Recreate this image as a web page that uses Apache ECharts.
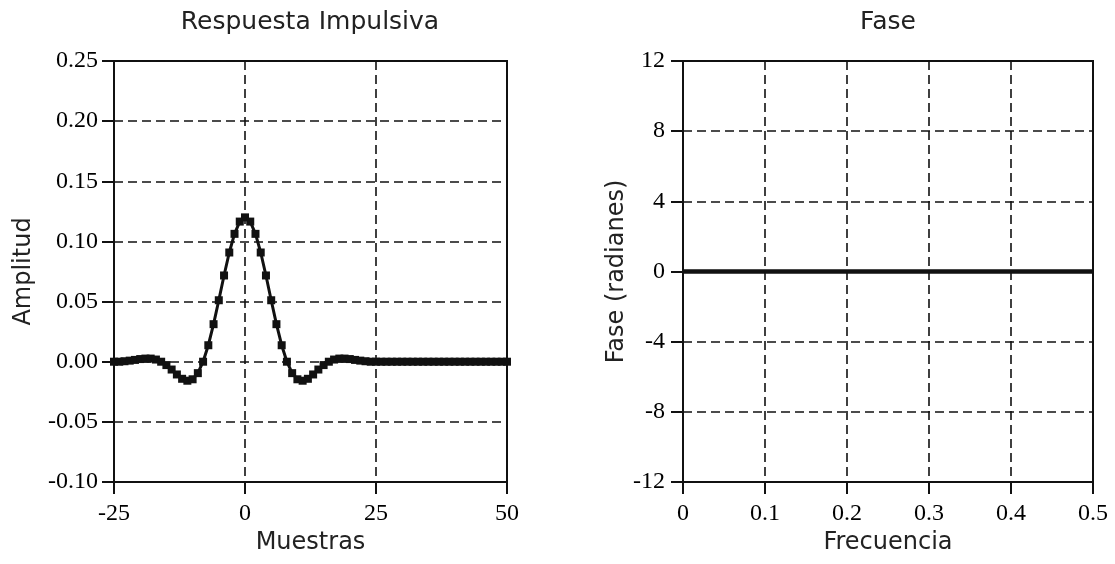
<!DOCTYPE html>
<html>
<head>
    <meta charset="utf-8">
    <title>Respuesta Impulsiva / Fase</title>
    <script src="https://cdn.jsdelivr.net/npm/echarts@6/dist/echarts.min.js"></script>
    <style>
        body { margin: 0; background: #fff; }
    </style>
</head>
<body>
<div id="main" style="width: 1115px;height:564px;"></div>
<script type="text/javascript">
    // muestras -25..50
    var muestras = [];
    for (var n = -25; n <= 50; n++) muestras.push(n);

    // amplitud (n = -25 .. 50)
    var amplitud = [
        0, 0, 0.0004, 0.0009, 0.0015, 0.0022, 0.0026, 0.0026, 0.0018, 0,
        -0.0028, -0.0065, -0.0106, -0.0142, -0.0158, -0.0146, -0.0095, 0,
        0.0137, 0.0312, 0.0511, 0.0717, 0.0908, 0.1063, 0.1165,
        0.12,
        0.1165, 0.1063, 0.0908, 0.0717, 0.0511, 0.0312, 0.0137,
        0, -0.0095, -0.0146, -0.0158, -0.0142, -0.0106, -0.0065, -0.0028,
        0, 0.0018, 0.0026, 0.0026, 0.0022, 0.0015, 0.0009, 0.0004, 0, 0,
        0, 0, 0, 0, 0, 0, 0, 0, 0, 0, 0, 0, 0, 0, 0, 0, 0, 0, 0, 0, 0, 0, 0, 0, 0
    ];

    var frecuencia = [0, 0.05, 0.1, 0.15, 0.2, 0.25, 0.3, 0.35, 0.4, 0.45, 0.5];
    var fase = [0, 0, 0, 0, 0, 0, 0, 0, 0, 0, 0];

    var ticksMuestras = [-25, 0, 25, 50];
    var ticksAmplitud = [-0.10, -0.05, 0.00, 0.05, 0.10, 0.15, 0.20, 0.25];
    var ticksFrecuencia = [0, 0.1, 0.2, 0.3, 0.4, 0.5];
    var ticksFase = [-12, -8, -4, 0, 4, 8, 12];

    var serif = 'Liberation Serif';
    var sans = 'DejaVu Sans';

    function dashed() {
        return { show: true, lineStyle: { color: '#111', width: 1.6, type: [9, 5] } };
    }
    var labelStyle = { color: '#000', fontFamily: serif, fontSize: 24 };
    var nameStyle = { color: '#222', fontFamily: sans, fontSize: 24 };
    var titleStyle = { fontFamily: sans, fontSize: 25, fontWeight: 'normal', color: '#222' };

    var myChart = echarts.init(document.getElementById('main'));
    myChart.setOption({
        animation: false,
        backgroundColor: '#fff',
        title: [
            { text: 'Respuesta Impulsiva', left: 310, top: 10, padding: 0, textAlign: 'center', textStyle: titleStyle },
            { text: 'Fase', left: 888, top: 10, padding: 0, textAlign: 'center', textStyle: titleStyle }
        ],
        grid: [
            { left: 114, top: 61, width: 393, height: 421, show: true, borderColor: '#111', borderWidth: 2, backgroundColor: 'transparent' },
            { left: 683, top: 61, width: 410, height: 421, show: true, borderColor: '#111', borderWidth: 2, backgroundColor: 'transparent' }
        ],
        xAxis: [
            {
                gridIndex: 0, type: 'value', min: ticksMuestras[0], max: ticksMuestras[ticksMuestras.length - 1], interval: 25,
                name: 'Muestras', nameLocation: 'middle', nameGap: 48, nameTextStyle: nameStyle,
                axisLine: { show: true, onZero: false, lineStyle: { color: '#111', width: 2 } },
                axisTick: { show: true, length: 12, lineStyle: { color: '#111', width: 2 } },
                axisLabel: Object.assign({ margin: 20 }, labelStyle),
                splitLine: dashed()
            },
            {
                gridIndex: 1, type: 'value', min: 0, max: 0.5, interval: 0.1,
                name: 'Frecuencia', nameLocation: 'middle', nameGap: 48, nameTextStyle: nameStyle,
                axisLine: { show: true, onZero: false, lineStyle: { color: '#111', width: 2 } },
                axisTick: { show: true, length: 12, lineStyle: { color: '#111', width: 2 } },
                axisLabel: Object.assign({ margin: 20, formatter: function (v) { return v === 0 ? '0' : v.toFixed(1); } }, labelStyle),
                splitLine: dashed()
            }
        ],
        yAxis: [
            {
                gridIndex: 0, type: 'value', min: -0.1, max: 0.25, interval: 0.05,
                name: 'Amplitud', nameLocation: 'middle', nameGap: 78, nameTextStyle: nameStyle,
                axisLine: { show: true, onZero: false, lineStyle: { color: '#111', width: 2 } },
                axisTick: { show: true, length: 12, lineStyle: { color: '#111', width: 2 } },
                axisLabel: Object.assign({ margin: 16, formatter: function (v) { return v.toFixed(2); } }, labelStyle),
                splitLine: dashed()
            },
            {
                gridIndex: 1, type: 'value', min: -12, max: 12, interval: 4,
                name: 'Fase (radianes)', nameLocation: 'middle', nameGap: 52, nameTextStyle: nameStyle,
                axisLine: { show: true, onZero: false, lineStyle: { color: '#111', width: 2 } },
                axisTick: { show: true, length: 12, lineStyle: { color: '#111', width: 2 } },
                axisLabel: Object.assign({ margin: 18 }, labelStyle),
                splitLine: dashed()
            }
        ],
        series: [
            {
                type: 'line', xAxisIndex: 0, yAxisIndex: 0,
                data: muestras.map(function (m, i) { return [m, amplitud[i]]; }),
                symbol: 'rect', symbolSize: 8, showAllSymbol: true,
                itemStyle: { color: '#111' },
                lineStyle: { color: '#111', width: 3 }
            },
            {
                type: 'line', xAxisIndex: 1, yAxisIndex: 1,
                data: frecuencia.map(function (f, i) { return [f, fase[i]]; }),
                symbol: 'none',
                lineStyle: { color: '#111', width: 4.5 }
            }
        ]
    });
</script>
</body>
</html>
